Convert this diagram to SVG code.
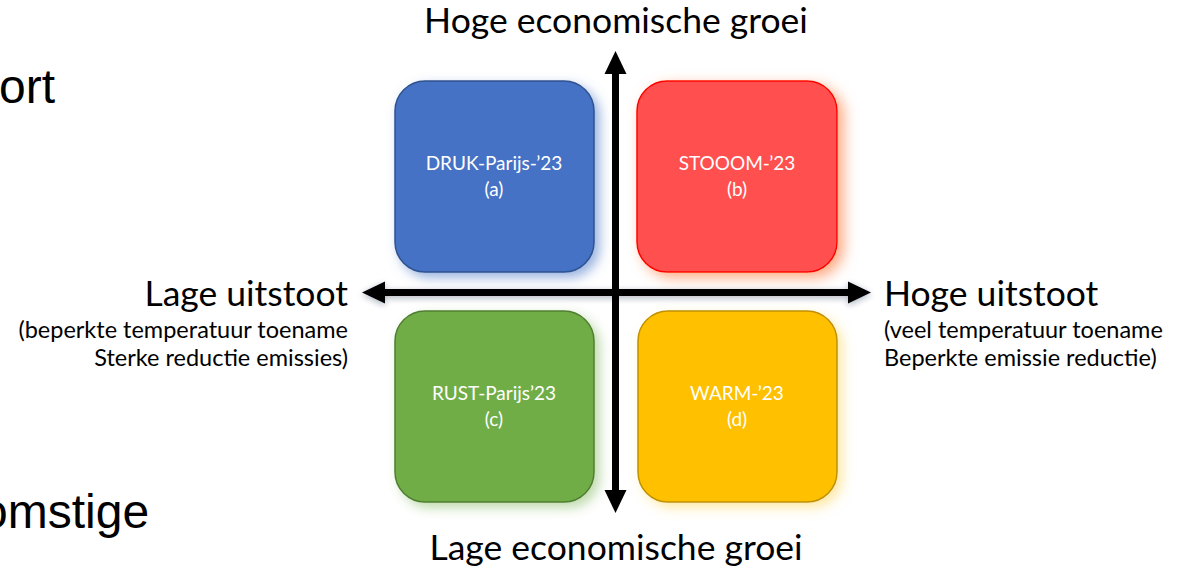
<svg xmlns="http://www.w3.org/2000/svg" width="1186" height="567" viewBox="0 0 1186 567">
  <style>
    .axis-title { font-family: Lato, "Open Sans", sans-serif; font-size: 35.5px; fill: #000; }
    .axis-note { font-family: Lato, "Open Sans", sans-serif; font-size: 23.5px; fill: #000; }
    .box-label { font-family: Lato, "Open Sans", sans-serif; font-size: 19px; fill: #fff; text-anchor: middle; }
    .slide-text { font-family: "Liberation Sans", Arial, sans-serif; font-size: 48px; fill: #000; }
    .axis { stroke: #000; stroke-width: 7; fill: none; }
    .head { fill: #000; }
  </style>
  <defs>
    <filter id="glow-blue" x="-20%" y="-20%" width="150%" height="150%">
      <feDropShadow dx="5" dy="5" stdDeviation="6" flood-color="#4472C4" flood-opacity="0.55"/>
    </filter>
    <filter id="glow-red" x="-20%" y="-20%" width="150%" height="150%">
      <feDropShadow dx="6" dy="5" stdDeviation="7" flood-color="#FF7A3C" flood-opacity="0.65"/>
    </filter>
    <filter id="glow-green" x="-20%" y="-20%" width="150%" height="150%">
      <feDropShadow dx="5" dy="5" stdDeviation="6" flood-color="#70AD47" flood-opacity="0.45"/>
    </filter>
    <filter id="glow-yellow" x="-20%" y="-20%" width="150%" height="150%">
      <feDropShadow dx="5" dy="5" stdDeviation="6" flood-color="#FFD34D" flood-opacity="0.5"/>
    </filter>
    <filter id="axis-shadow" x="-5%" y="-100%" width="110%" height="300%">
      <feDropShadow dx="0" dy="2" stdDeviation="3" flood-color="#1a2a4a" flood-opacity="0.35"/>
    </filter>
  </defs>

  <rect width="1186" height="567" fill="#fff"/>

  <!-- slide body text cut by the frame -->
  <text class="slide-text" x="-1" y="103">ort</text>
  <text class="slide-text" x="-19" y="528">omstige</text>

  <!-- quadrant nodes -->
  <g id="node-a">
    <rect x="395" y="81" width="199" height="191" rx="30" fill="#4472C4" stroke="#2F528F" stroke-width="1.5" filter="url(#glow-blue)"/>
    <text class="box-label" x="494" y="170">DRUK-Parijs-’23</text>
    <text class="box-label" x="494" y="196">(a)</text>
  </g>
  <g id="node-b">
    <rect x="637" y="81" width="200" height="191" rx="30" fill="#FF5050" stroke="#FF0000" stroke-width="1.5" filter="url(#glow-red)"/>
    <text class="box-label" x="737" y="170">STOOOM-’23</text>
    <text class="box-label" x="737" y="196">(b)</text>
  </g>
  <g id="node-c">
    <rect x="395" y="311" width="199" height="191" rx="30" fill="#70AD47" stroke="#507E32" stroke-width="1.5" filter="url(#glow-green)"/>
    <text class="box-label" x="494" y="400">RUST-Parijs’23</text>
    <text class="box-label" x="494" y="426">(c)</text>
  </g>
  <g id="node-d">
    <rect x="638" y="311" width="199" height="191" rx="30" fill="#FFC000" stroke="#BF9000" stroke-width="1.5" filter="url(#glow-yellow)"/>
    <text class="box-label" x="737" y="400">WARM-’23</text>
    <text class="box-label" x="737" y="426">(d)</text>
  </g>

  <!-- axes -->
  <g id="connectors">
    <g filter="url(#axis-shadow)">
      <line class="axis" x1="384" y1="292.5" x2="849" y2="292.5"/>
      <polygon class="head" points="362,292.5 385,281.5 385,303.5"/>
      <polygon class="head" points="871,292.5 848,281.5 848,303.5"/>
    </g>
    <line class="axis" x1="615.5" y1="73" x2="615.5" y2="491"/>
    <polygon class="head" points="615.5,51 604.5,74 626.5,74"/>
    <polygon class="head" points="615.5,513 604.5,490 626.5,490"/>
  </g>

  <!-- axis labels -->
  <g id="label-top">
    <text class="axis-title" x="616" y="33" text-anchor="middle">Hoge economische groei</text>
  </g>
  <g id="label-bottom">
    <text class="axis-title" x="616" y="560" text-anchor="middle">Lage economische groei</text>
  </g>
  <g id="label-left" text-anchor="end">
    <text class="axis-title" x="348" y="306">Lage uitstoot</text>
    <text class="axis-note" x="348" y="338">(beperkte temperatuur toename</text>
    <text class="axis-note" x="348" y="366">Sterke reductie emissies)</text>
  </g>
  <g id="label-right">
    <text class="axis-title" x="884" y="306">Hoge uitstoot</text>
    <text class="axis-note" x="884" y="338">(veel temperatuur toename</text>
    <text class="axis-note" x="884" y="366">Beperkte emissie reductie)</text>
  </g>
</svg>
